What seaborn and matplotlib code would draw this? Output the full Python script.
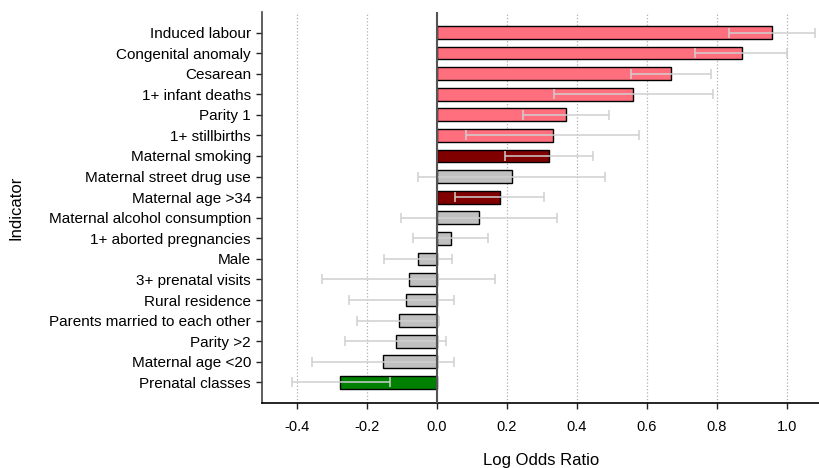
import numpy as np
import pandas as pd
import matplotlib
matplotlib.use("Agg")
import matplotlib.pyplot as plt
import seaborn as sns

indicators = [
    "Induced labour", "Congenital anomaly", "Cesarean", "1+ infant deaths",
    "Parity 1", "1+ stillbirths", "Maternal smoking", "Maternal street drug use",
    "Maternal age >34", "Maternal alcohol consumption", "1+ aborted pregnancies",
    "Male", "3+ prenatal visits", "Rural residence", "Parents married to each other",
    "Parity >2", "Maternal age <20", "Prenatal classes",
]
log_odds = [0.957, 0.871, 0.670, 0.561, 0.369, 0.332, 0.321, 0.215, 0.179,
            0.120, 0.039, -0.055, -0.081, -0.087, -0.108, -0.117, -0.154, -0.276]
ci_low = [0.836, 0.737, 0.554, 0.334, 0.246, 0.083, 0.196, -0.053, 0.051,
          -0.102, -0.068, -0.151, -0.329, -0.251, -0.227, -0.262, -0.356, -0.415]
ci_high = [1.080, 1.000, 0.783, 0.789, 0.492, 0.579, 0.445, 0.480, 0.305,
           0.342, 0.146, 0.044, 0.167, 0.050, 0.007, 0.025, 0.048, -0.133]
groups = ["pos", "pos", "pos", "pos", "pos", "pos", "mod", "ns", "mod",
          "ns", "ns", "ns", "ns", "ns", "ns", "ns", "ns", "neg"]
group_colors = {"pos": "#ff6f7d", "mod": "#800000", "ns": "#c0c0c0", "neg": "#008000"}

df = pd.DataFrame({"Indicator": indicators, "LogOdds": log_odds,
                   "lo": ci_low, "hi": ci_high, "group": groups})

plt.rcParams["font.family"] = ["Liberation Sans", "DejaVu Sans"]
fig = plt.figure(figsize=(8.2, 4.68), dpi=100)
ax = fig.add_axes([0.3195, 0.139, 0.6805, 0.8355])

palette = [group_colors[g] for g in df["group"]]
sns.barplot(data=df, x="LogOdds", y="Indicator", hue="Indicator", palette=palette,
            legend=False, width=0.62, edgecolor="black", linewidth=1.0, ax=ax,
            orient="h", saturation=1, zorder=2)

pos = np.arange(len(df))
ax.errorbar(df["LogOdds"], pos,
            xerr=[df["LogOdds"] - df["lo"], df["hi"] - df["LogOdds"]],
            fmt="none", ecolor="#cfcfcf", elinewidth=1.1, capsize=3.5, capthick=1.1,
            zorder=3)

ax.axvline(0, color="#555555", lw=1.5, zorder=4)

ax.set_xlim(-0.5, 1.095)
ax.set_ylim(len(df) - 1 + 1.0, -1.0)
ax.set_xticks([-0.4, -0.2, 0.0, 0.2, 0.4, 0.6, 0.8, 1.0])
ax.set_xticklabels(["-0.4", "-0.2", "0.0", "0.2", "0.4", "0.6", "0.8", "1.0"])
ax.xaxis.grid(True, linestyle=":", color="#b0b0b0", lw=0.9, zorder=0)
ax.yaxis.grid(False)
ax.set_axisbelow(True)

for s in ["top", "right"]:
    ax.spines[s].set_visible(False)
ax.spines["left"].set_color("#444444")
ax.spines["left"].set_linewidth(1.2)
ax.spines["bottom"].set_color("black")
ax.spines["bottom"].set_linewidth(1.2)
ax.tick_params(axis="both", direction="out", length=4, width=1, colors="#222222",
               labelcolor="black")
ax.tick_params(axis="y", labelsize=11, pad=4)
ax.tick_params(axis="x", labelsize=10.5, pad=8)

ax.set_xlabel("Log Odds Ratio", fontsize=12, labelpad=14)
ax.set_ylabel("Indicator", fontsize=12)
ax.yaxis.set_label_coords(-0.428, 0.5)

fig.savefig("out.png", dpi=100)
